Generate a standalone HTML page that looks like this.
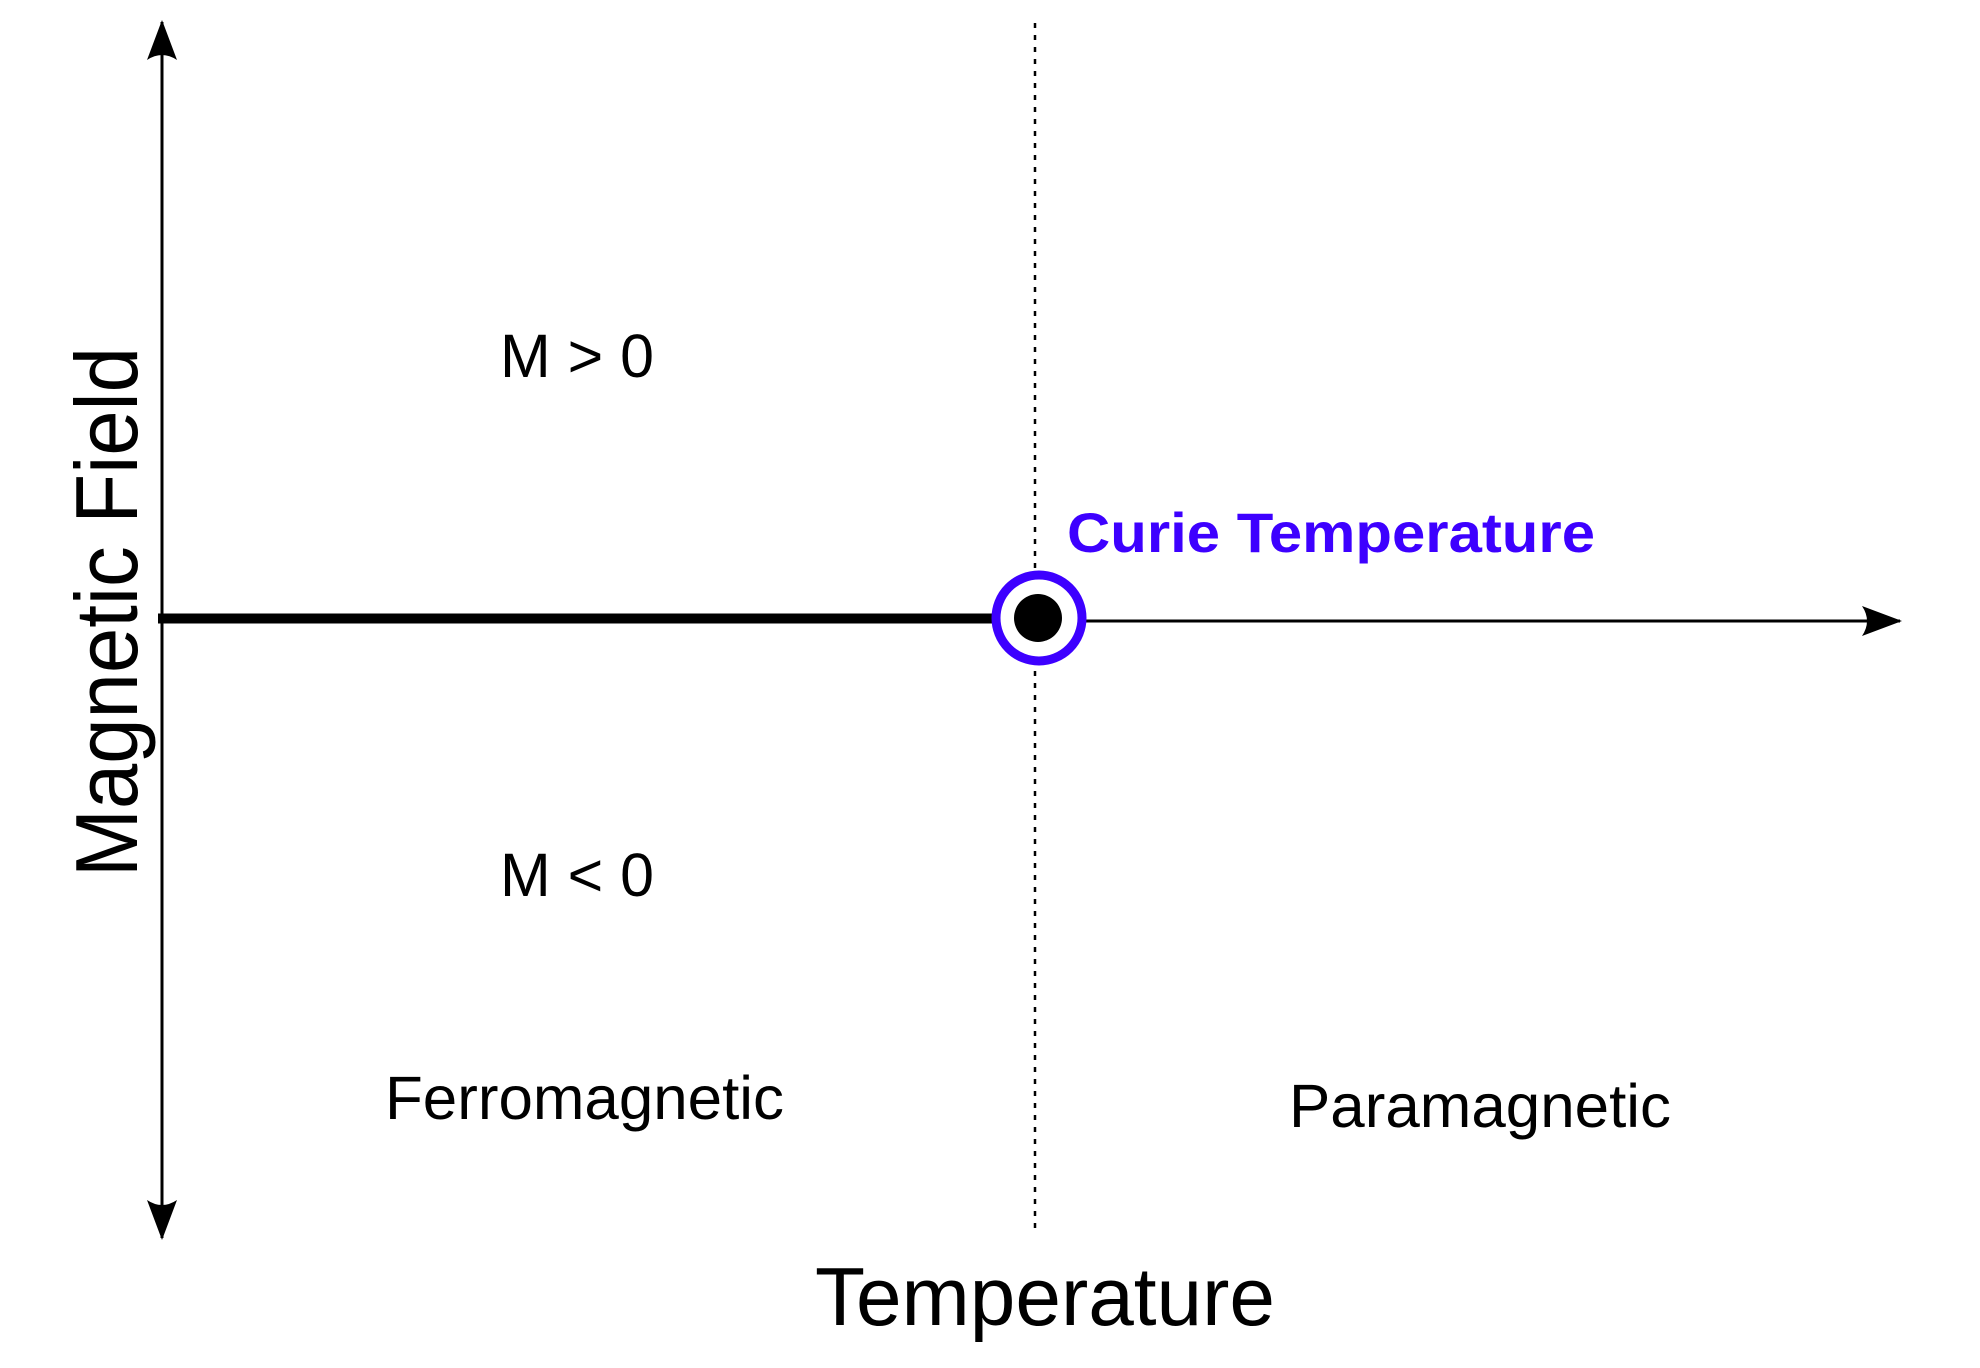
<!DOCTYPE html>
<html><head><meta charset="utf-8"><style>
html,body{margin:0;padding:0;background:#fff;}
svg{display:block;font-family:"Liberation Sans",sans-serif;}
</style></head><body>
<svg id="chart" width="1980" height="1368" viewBox="0 0 1980 1368">
<defs>
<marker id="ah" viewBox="0 0 40 30" refX="38" refY="15" markerWidth="40" markerHeight="30" markerUnits="userSpaceOnUse" orient="auto">
<path d="M0,0 L40,15 L0,30 Q10,15 0,0Z" fill="#000"/>
</marker>
</defs>
<line x1="162" y1="1236" x2="162" y2="22" stroke="#000" stroke-width="3" marker-end="url(#ah)"/>
<line x1="162" y1="700" x2="162" y2="1238" stroke="#000" stroke-width="3" marker-end="url(#ah)"/>
<line x1="1000" y1="621" x2="1900" y2="621" stroke="#000" stroke-width="3" marker-end="url(#ah)"/>
<line x1="1035" y1="23" x2="1035" y2="1232" stroke="#000" stroke-width="2.5" stroke-dasharray="5,7"/>
<line x1="158" y1="618.5" x2="1030" y2="618.5" stroke="#000" stroke-width="10"/>
<circle cx="1039" cy="618" r="43" fill="#fff" stroke="#3d00ff" stroke-width="9"/>
<circle cx="1038" cy="618" r="24" fill="#000"/>
<text x="1067" y="552" font-size="56" font-weight="bold" fill="#3d00ff" textLength="528" lengthAdjust="spacingAndGlyphs">Curie Temperature</text>
<text x="500" y="377" font-size="61" textLength="154" lengthAdjust="spacingAndGlyphs">M &gt; 0</text>
<text x="500" y="896" font-size="61" textLength="154" lengthAdjust="spacingAndGlyphs">M &lt; 0</text>
<text x="385" y="1119" font-size="61" textLength="399" lengthAdjust="spacingAndGlyphs">Ferromagnetic</text>
<text x="1289" y="1127" font-size="61" textLength="382" lengthAdjust="spacingAndGlyphs">Paramagnetic</text>
<text x="815" y="1325" font-size="83" textLength="460" lengthAdjust="spacingAndGlyphs">Temperature</text>
<text transform="translate(137,877) rotate(-90)" x="0" y="0" font-size="88" textLength="530" lengthAdjust="spacingAndGlyphs">Magnetic Field</text>
</svg>
</body></html>
